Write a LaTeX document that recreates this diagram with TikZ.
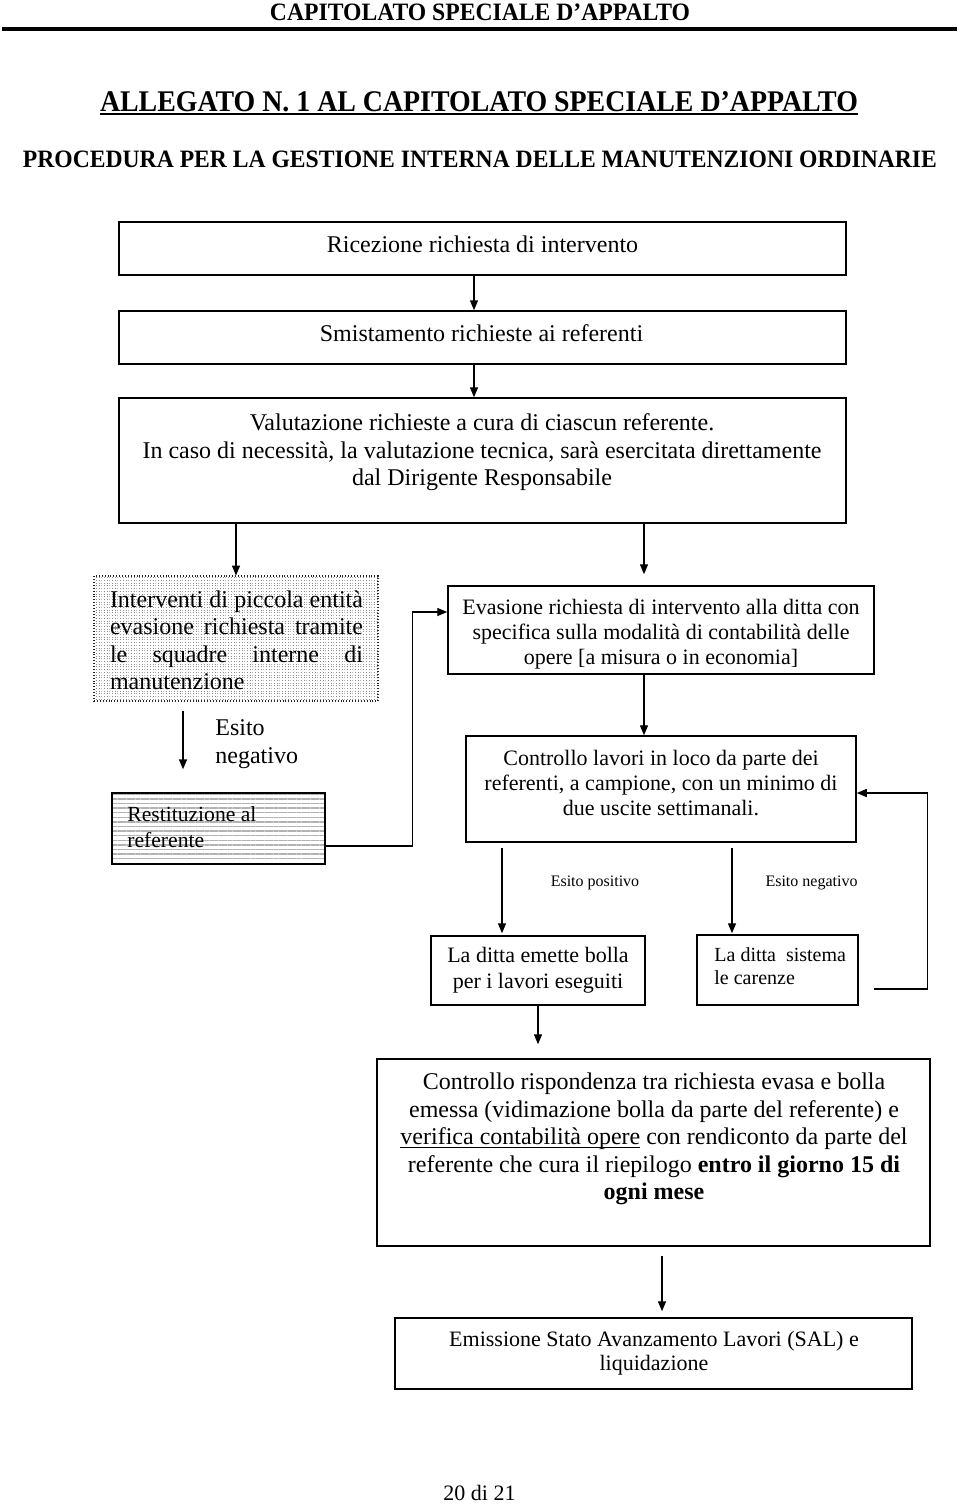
\documentclass[tikz,border=0pt]{standalone}
\usepackage{fontspec}
\setmainfont{Liberation Serif}
\usepackage{graphicx}
\usetikzlibrary{arrows.meta,patterns.meta,calc}
\newcommand\fitw[2]{\resizebox{#1}{\height}{#2}}
\newsavebox\ulbox
\newcommand\myul[1]{\sbox\ulbox{#1}\rlap{\rule[-1.7pt]{\wd\ulbox}{0.55pt}}\usebox\ulbox}
\begin{document}
\begin{tikzpicture}[x=0.5pt,y=-0.5pt,
  box/.style={draw, line width=0.75pt, inner sep=0pt},
  arr/.style={-{Triangle[length=5pt,width=4pt]}, line width=0.7pt},
  tx/.style={inner sep=0pt, align=center},
  f12/.style={font=\fontsize{12pt}{13.75pt}\selectfont},
  f11/.style={font=\fontsize{11pt}{12.5pt}\selectfont},
  f10/.style={font=\fontsize{10pt}{11.5pt}\selectfont},
  f8/.style={font=\fontsize{8pt}{9.5pt}\selectfont},
  head/.style={inner sep=0pt, anchor=base, font=\fontsize{12.5pt}{14pt}\selectfont\bfseries}]
\useasboundingbox (0,0) rectangle (960,1512);

% headings
\node[head] (h1) at (480,20) {\fitw{210pt}{CAPITOLATO SPECIALE D’APPALTO}};
\draw[line width=2pt] (2,28.5) -- (957,28.5);
\node[head, font=\fontsize{15pt}{17pt}\selectfont\bfseries] (h2) at (479,111) {\fitw{379pt}{ALLEGATO N. 1 AL CAPITOLATO SPECIALE D’APPALTO}};
\draw[line width=1.3pt] ($(h2.base west)+(0,3)$) -- ($(h2.base east)+(0,3)$);
\node[head] (h3) at (480,167) {\fitw{457pt}{PROCEDURA PER LA GESTIONE INTERNA DELLE MANUTENZIONI ORDINARIE}};

% boxes
\node[box, minimum width=363.5pt, minimum height=26.5pt] (b1) at (482.5,248.5) {};
\node[box, minimum width=363.5pt, minimum height=26.5pt] (b2) at (482.5,337.5) {};
\node[box, minimum width=363.5pt, minimum height=62.5pt] (b3) at (482.5,460.5) {};
\node[draw=black!85, densely dotted, line width=0.8pt, inner sep=0pt,
      pattern={Lines[angle=0,distance=1.35pt,line width=0.45pt]}, pattern color=black!45,
      minimum width=142pt, minimum height=62.5pt] (b4) at (236,638.5) {};
\node[box, pattern={Lines[angle=0,distance=2.3pt,line width=0.7pt]}, pattern color=black!30,
      minimum width=106.5pt, minimum height=35.5pt] (b5) at (218.5,828.5) {};
\node[box, minimum width=213pt, minimum height=44pt] (b6) at (661,630) {};
\node[box, minimum width=195pt, minimum height=53pt] (b7) at (661,789) {};
\node[box, minimum width=107pt, minimum height=34.5pt] (b8) at (538,970.5) {};
\node[box, minimum width=80.5pt, minimum height=35pt] (b9) at (777.5,970) {};
\node[box, minimum width=276.5pt, minimum height=93.5pt] (b10) at (653.5,1152.5) {};
\node[box, minimum width=258.5pt, minimum height=35.5pt] (b11) at (653.5,1353.5) {};

% texts
\node[tx,f12,anchor=base] (t1) at (482.5,252.5) {Ricezione richiesta di intervento};
\node[tx,f12,anchor=base] (t2) at (481.5,341.5) {Smistamento richieste ai referenti};
\node[tx,f12] (t3) at (482,452.5) {Valutazione richieste a cura di ciascun referente.\\In caso di necessità, la valutazione tecnica, sarà esercitata direttamente\\dal Dirigente Responsabile};
\node[tx,f12,align=left] (t4) at (236.5,640.5) {\makebox[126.5pt][s]{Interventi di piccola entità}\\\makebox[126.5pt][s]{evasione richiesta tramite}\\\makebox[126.5pt][s]{le squadre interne di}\\manutenzione};
\node[tx,f12,align=left,anchor=west] (en1) at (215,744) {Esito\\negativo};
\node[tx,font=\fontsize{10.8pt}{12.6pt}\selectfont,align=left,anchor=west] (t5) at (127,827) {Restituzione al\\referente};
\node[tx,f11] (t6) at (661,634) {Evasione richiesta di intervento alla ditta con\\specifica sulla modalità di contabilità delle\\opere [a misura o in economia]};
\node[tx,f11] (t7) at (661,783) {Controllo lavori in loco da parte dei\\referenti, a campione, con un minimo di\\due uscite settimanali.};
\node[tx,f8,anchor=base] (ep) at (595,886.5) {Esito positivo};
\node[tx,f8,anchor=base] (en2) at (811.5,886.5) {Esito negativo};
\node[tx,font=\fontsize{11pt}{13pt}\selectfont] (t8) at (538,970) {La ditta emette bolla\\per i lavori eseguiti};
\node[tx,f10,align=left,anchor=west] (t9) at (714,966) {La ditta\ \ sistema\\le carenze};
\node[tx,f12] (t10) at (654,1139) {Controllo rispondenza tra richiesta evasa e bolla\\emessa (vidimazione bolla da parte del referente) e\\\myul{verifica contabilità opere} con rendiconto da parte del\\referente che cura il riepilogo \textbf{entro il giorno 15 di}\\\textbf{ogni mese}};
\node[tx,font=\fontsize{11pt}{12pt}\selectfont] (t11) at (654,1353.5) {Emissione Stato Avanzamento Lavori (SAL) e\\liquidazione};
\node[tx,font=\fontsize{11pt}{13pt}\selectfont,anchor=base] (pg) at (479.5,1500) {20 di 21};

% connectors
\draw[arr] ($(b1.south)+(-8.5,0)$) -- ($(b2.north)+(-8.5,0)$);
\draw[arr] ($(b2.south)+(-8.5,0)$) -- ($(b3.north)+(-8.5,0)$);
\draw[arr] (b3.south -| b4.north) -- (b4.north);
\draw[arr] ($(b6.north |- b3.south)+(-17,0)$) -- ($(b6.north)+(-17,-11)$);
\draw[arr] ($(b4.south)+(-53,9.5)$) -- ($(b5.north)+(-35.5,-23)$);
\draw[arr] ($(b5.east)+(0,17.5)$) -| ($(b6.west)+(-35,-18)$) -- ($(b6.west)+(0,-18)$);
\draw[arr] ($(b6.south)+(-17,0)$) -- ($(b7.north)+(-17,0)$);
\draw[arr] ($(b8.north |- b7.south)+(-36,5)$) -- ($(b8.north)+(-36,-2)$);
\draw[arr] ($(b9.north |- b7.south)+(-45.5,5)$) -- ($(b9.north)+(-45.5,-1)$);
\draw[arr] ($(b9.east)+(15,19)$) -| ($(b7.east)+(71,4)$) -- ($(b7.east)+(0,4)$);
\draw[arr] (b8.south) -- ($(b8.south |- b10.north)+(0,-14)$);
\draw[arr] ($(b10.south)+(8.5,9)$) -- ($(b11.north)+(8.5,-6)$);
\end{tikzpicture}
\end{document}
